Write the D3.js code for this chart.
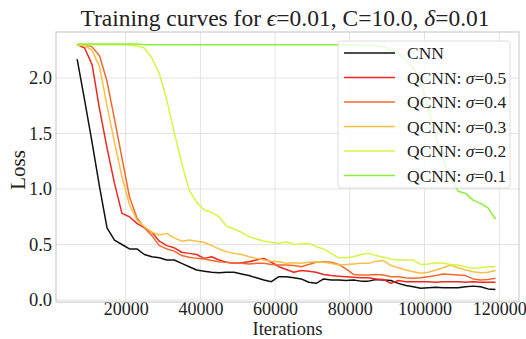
<!DOCTYPE html>
<html>
<head>
<meta charset="utf-8">
<script src="https://cdn.jsdelivr.net/npm/d3@7"></script>
<style>
  html, body { margin: 0; padding: 0; background: #fff; }
  svg text { font-family: "Liberation Serif", "DejaVu Serif", serif; fill: #222; }
</style>
</head>
<body>
<svg id="chart" width="526" height="339"></svg>
<script>
// ---- data ----
const iterations = d3.range(7000, 120000, 2000); // 7000 ... 119000
const xTicks = [20000, 40000, 60000, 80000, 100000, 120000];
const yTicks = [0.0, 0.5, 1.0, 1.5, 2.0];

const seriesNames = ["CNN", "QCNN: σ=0.5", "QCNN: σ=0.4", "QCNN: σ=0.3", "QCNN: σ=0.2", "QCNN: σ=0.1"];
const seriesColors = ["#111111", "#ec2a20", "#f4692c", "#fcbf45", "#d6f545", "#8af03c"];

const cnn = [2.17,1.80,1.42,1.02,0.65,0.54,0.50,0.46,0.46,0.41,0.39,0.38,0.36,0.36,0.33,0.30,0.27,0.26,0.25,0.245,
  0.25,0.25,0.235,0.22,0.20,0.18,0.165,0.21,0.21,0.20,0.19,0.16,0.15,0.19,0.18,0.18,0.175,0.18,0.17,0.17,
  0.185,0.18,0.175,0.15,0.13,0.12,0.105,0.11,0.115,0.11,0.11,0.11,0.12,0.125,0.12,0.10,0.095];
const sigma05 = [2.30,2.27,2.12,1.72,1.37,1.05,0.78,0.75,0.69,0.65,0.61,0.53,0.49,0.47,0.43,0.42,0.41,0.375,0.39,0.36,
  0.34,0.33,0.335,0.345,0.36,0.375,0.34,0.30,0.275,0.25,0.265,0.26,0.25,0.23,0.22,0.215,0.21,0.205,0.20,0.20,
  0.19,0.185,0.15,0.175,0.165,0.165,0.165,0.165,0.16,0.165,0.165,0.165,0.16,0.165,0.16,0.16,0.16];
const sigma04 = [2.30,2.30,2.28,2.20,1.97,1.63,1.28,0.93,0.74,0.65,0.58,0.49,0.46,0.44,0.40,0.385,0.375,0.37,0.355,0.345,
  0.34,0.33,0.33,0.325,0.33,0.33,0.32,0.315,0.315,0.31,0.30,0.32,0.34,0.345,0.34,0.32,0.28,0.23,0.225,0.225,
  0.23,0.225,0.21,0.21,0.20,0.195,0.20,0.21,0.22,0.235,0.23,0.225,0.22,0.19,0.18,0.185,0.195];
const sigma03 = [2.30,2.29,2.25,2.10,1.75,1.42,1.11,0.86,0.72,0.66,0.61,0.585,0.60,0.56,0.53,0.54,0.53,0.52,0.49,0.46,
  0.435,0.42,0.41,0.39,0.375,0.36,0.35,0.345,0.33,0.335,0.33,0.34,0.345,0.34,0.33,0.315,0.32,0.325,0.33,0.33,
  0.35,0.355,0.31,0.29,0.27,0.255,0.24,0.25,0.27,0.29,0.315,0.29,0.27,0.255,0.245,0.25,0.265];
const sigma02 = [2.30,2.30,2.30,2.30,2.30,2.30,2.30,2.295,2.29,2.27,2.18,2.04,1.80,1.51,1.23,0.99,0.88,0.81,0.79,0.75,
  0.665,0.64,0.61,0.57,0.55,0.53,0.52,0.51,0.525,0.50,0.505,0.51,0.48,0.46,0.42,0.38,0.38,0.39,0.41,0.42,
  0.40,0.385,0.37,0.36,0.36,0.36,0.32,0.325,0.335,0.33,0.32,0.315,0.30,0.285,0.29,0.30,0.30];
const sigma01 = [2.305,2.305,2.305,2.305,2.305,2.305,2.305,2.305,2.305,2.30,2.30,2.30,2.30,2.30,2.30,2.30,2.30,2.30,2.30,2.30,
  2.30,2.30,2.30,2.30,2.30,2.30,2.30,2.30,2.30,2.30,2.30,2.30,2.30,2.30,2.30,2.30,2.30,2.30,2.295,2.295,
  2.29,2.28,2.25,2.22,2.16,2.09,1.95,1.73,1.47,1.26,1.10,0.98,0.96,0.90,0.87,0.83,0.73];

const seriesValues = [cnn, sigma05, sigma04, sigma03, sigma02, sigma01];

// ---- layout ----
const svg = d3.select("#chart");
const mLeft = 56, mRight = 519, mTop = 32, mBottom = 302;

const x = d3.scaleLinear().domain([1340, 125300]).range([mLeft, mRight]);
const y = d3.scaleLinear().domain([-0.018, 2.414]).range([mBottom, mTop]);

// grid
const grid = svg.append("g");
grid.selectAll("line.gx").data(xTicks).join("line")
  .attr("x1", d => x(d)).attr("x2", d => x(d))
  .attr("y1", mTop).attr("y2", mBottom)
  .attr("stroke", "#e3e3e3").attr("stroke-width", 1);
grid.selectAll("line.gy").data(yTicks).join("line")
  .attr("x1", mLeft).attr("x2", mRight)
  .attr("y1", d => y(d)).attr("y2", d => y(d))
  .attr("stroke", "#e3e3e3").attr("stroke-width", 1);

// axes (no tick marks, labels only)
const xAxis = d3.axisBottom(x).tickValues(xTicks).tickSize(0).tickPadding(0).tickFormat(d3.format("d"));
const yAxis = d3.axisLeft(y).tickValues(yTicks).tickSize(0).tickPadding(4).tickFormat(d3.format(".1f"));
const gx = svg.append("g").attr("transform", `translate(0,${mBottom})`).call(xAxis);
const gy = svg.append("g").attr("transform", `translate(${mLeft},0)`).call(yAxis);
gx.select(".domain").remove();
gy.select(".domain").remove();
gx.selectAll("text").attr("font-size", 18).attr("fill", "#222");
gy.selectAll("text").attr("font-size", 18.5).attr("fill", "#222");
[gx, gy].forEach(g => g.selectAll("text").attr("font-family", "Liberation Serif, DejaVu Serif, serif"));

// lines
const line = d3.line().x((d, i) => x(iterations[i])).y(d => y(d));
svg.append("g").selectAll("path").data(seriesValues).join("path")
  .attr("d", d => line(d))
  .attr("fill", "none")
  .attr("stroke", (d, i) => seriesColors[i])
  .attr("stroke-width", 1.5)
  .attr("stroke-linejoin", "round");

// frame
svg.append("rect").attr("x", mLeft).attr("y", mTop)
  .attr("width", mRight - mLeft).attr("height", mBottom - mTop)
  .attr("fill", "none").attr("stroke", "#c4c4c4").attr("stroke-width", 1);

// title
const title = svg.append("text").attr("x", 285).attr("y", 26)
  .attr("text-anchor", "middle").attr("font-size", 23.5);
title.append("tspan").text("Training curves for ");
title.append("tspan").attr("font-style", "italic").text("ϵ");
title.append("tspan").text("=0.01, C=10.0, ");
title.append("tspan").attr("font-style", "italic").text("δ");
title.append("tspan").text("=0.01");

// axis labels
svg.append("text").attr("x", (mLeft + mRight) / 2).attr("y", 335)
  .attr("text-anchor", "middle").attr("font-size", 18.5).text("Iterations");
svg.append("text").attr("transform", `translate(25,${(mTop + mBottom) / 2 + 3}) rotate(-90)`)
  .attr("text-anchor", "middle").attr("font-size", 21).text("Loss");

// legend
const lg = svg.append("g");
lg.append("rect").attr("x", 338).attr("y", 41).attr("width", 172).attr("height", 147)
  .attr("rx", 3).attr("fill", "#fff").attr("fill-opacity", 0.8)
  .attr("stroke", "#dddddd").attr("stroke-width", 1);
const items = lg.selectAll("g.item").data(seriesNames).join("g")
  .attr("transform", (d, i) => `translate(0,${53 + i * 24.5})`);
items.append("line").attr("x1", 344).attr("x2", 395).attr("y1", 0).attr("y2", 0)
  .attr("stroke", (d, i) => seriesColors[i]).attr("stroke-width", 1.5);
items.each(function(d) {
  const t = d3.select(this).append("text").attr("x", 407).attr("y", 6).attr("font-size", 17.5);
  if (d.includes("σ")) {
    const parts = d.split("σ");
    t.append("tspan").text(parts[0]);
    t.append("tspan").attr("font-style", "italic").text("σ");
    t.append("tspan").text(parts[1]);
  } else {
    t.text(d);
  }
});
</script>
</body>
</html>
